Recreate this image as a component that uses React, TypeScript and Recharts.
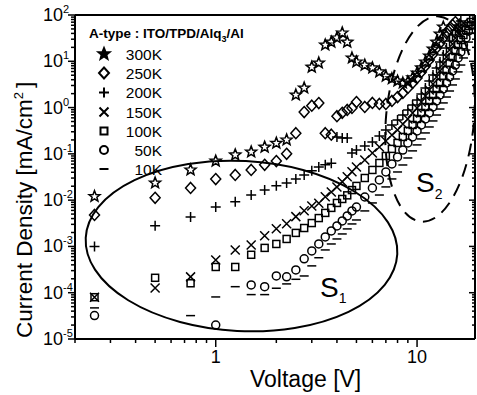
import React from 'react';
import { ScatterChart, Scatter, XAxis, YAxis } from 'recharts';

// voltage steps of the J-V sweep (0.25 V up to 4.75 V, then 0.5 V)
const voltage = [
  0.25, 0.5, 0.75, 1, 1.25, 1.5, 1.75, 2, 2.25, 2.5, 2.75, 3, 3.25, 3.5, 3.75, 4, 4.25, 4.5, 4.75,
  5, 5.5, 6, 6.5, 7, 7.5, 8, 8.5, 9, 9.5, 10, 10.5, 11, 11.5, 12, 12.5, 13, 13.5, 14, 14.5, 15,
  15.5, 16, 16.5, 17, 17.5, 18, 18.5, 19,
];

// current density [mA/cm2] per temperature, null = no point
const j300K = [
  0.012, 0.0235, 0.045, 0.07, 0.095, 0.11, 0.14, 0.17, 0.2, 1.87, 2.65, 7.5, 9.2, 22.5, 26, 32, 41, 26, 11.8,
  9.7, 8.3, 7.2, 5.9, 4.8, 4.2, 3.75, 3.4, 3.6, 4.4, 5.6, 7.2, 9.7, 13, 18.4, 26, 38.8, 55,
  null, null, null, null, null, null, null, null, null, null, null,
];
const j250K = [
  0.0048, 0.0112, 0.0184, 0.0285, 0.035, 0.045, 0.058, 0.07, 0.1, 0.28, 0.8, 1.1, 1.25, 0.28, 0.26, 0.65, 0.77, 0.89, 0.98,
  1.32, 1.03, 1.26, 1.2, 1.2, 1.39, 1.69, 2.07, 2.65, 3.4, 4.36, 5.9, 7.9, 10.7, 14.4, 19.4, 24.8, 31.9, 40.8, 49.9, 61, 70.6,
  null, null, null, null, null, null, null,
];
const j200K = [
  0.001, 0.0028, 0.0043, 0.0071, 0.0092, 0.0129, 0.0166, 0.0204, 0.0235, 0.0288, 0.035, 0.043, 0.052, 0.058, 0.063, 0.23, 0.22, 0.22, 0.105,
  0.121, 0.148, 0.181, 0.244, 0.328, 0.421, 0.54, 0.69, 0.89, 1.14, 1.46, 1.97, 2.65, 3.76, 5.06, 7.2, 9.7, 13.7, 19.4, 27.4, 37, 47, 61, 74,
  null, null, null, null, null,
];
const j150K = [
  8e-5, 1.26e-4, 2.2e-4, 5.1e-4, 8.4e-4, 0.00107, 0.0017, 0.0024, 0.0031, 0.0044, 0.0059, 0.0075, 0.0086, 0.0118, 0.015, 0.0193, 0.025, 0.032, 0.041,
  0.052, 0.074, 0.104, 0.141, 0.19, 0.256, 0.328, 0.443, 0.568, 0.764, 0.98, 1.32, 1.78, 2.4, 3.24, 4.58, 6.2, 8.7, 12.4, 17.5, 23.7, 31.9, 40.8, 52, 67,
  null, null, null, null,
];
const j100K = [
  8e-5, 2.1e-4, 1.6e-4, 3.6e-4, 3.6e-4, 6.6e-4, 9.3e-4, 0.00113, 0.00145, 0.00196, 0.0025, 0.0032, 0.0041, 0.0053, 0.0068, 0.0087, 0.0106, 0.0127, 0.0165,
  0.0203, 0.0301, 0.0449, 0.0636, 0.09, 0.128, 0.172, 0.232, 0.313, 0.421, 0.568, 0.764, 1.03, 1.39, 1.87, 2.52, 3.4, 4.82, 6.5, 9.2, 12.4, 16.7, 22.5, 28.8, 37, 47, 57.8, 70.6, 82,
];
const j50K = [
  3.2e-5, null, null, 2.0e-5, null, 1.47e-4, 1.35e-4, 2.3e-4, 2.2e-4, 3.1e-4, 5.4e-4, 8.0e-4, 0.00113, 0.0016, 0.00216, 0.00277, 0.00356, 0.00456, 0.00585,
  0.0071, 0.0117, 0.0183, 0.0273, 0.0406, 0.0605, 0.0857, 0.121, 0.172, 0.232, 0.313, 0.421, 0.568, 0.764, 1.03, 1.39, 1.87, 2.52, 3.4, 4.58, 6.2, 8.3, 11.8, 15.9, 22.5, 31.9, 45, 61,
  null,
];
const j10K = [
  4.7e-5, null, 3.2e-5, 8.1e-5, 1.35e-4, 9.1e-5, 9.1e-5, 1.25e-4, 1.55e-4, 1.95e-4, 2.3e-4, 3.8e-4, 5.7e-4, 8.4e-4, 0.00113, 0.00145, 0.00186, 0.00239, 0.00306,
  0.00373, 0.00585, 0.0087, 0.0129, 0.0193, 0.0287, 0.0406, 0.0575, 0.0815, 0.116, 0.156, 0.21, 0.283, 0.381, 0.514, 0.69, 0.93, 1.26, 1.69, 2.28, 3.08, 4.15, 5.9, 8.3, 11.8, 17.5, 26, 40.8, 64,
];

const xTicks = [0.2, 0.3, 0.4, 0.5, 0.6, 0.7, 0.8, 0.9, 1, 2, 3, 4, 5, 6, 7, 8, 9, 10];
const decades = [1e-5, 1e-4, 1e-3, 1e-2, 1e-1, 1, 10, 100];
const minorSteps = [2, 3, 4, 5, 6, 7, 8, 9];
const yTicks = decades.flatMap((d) => (d === 100 ? [d] : [d, ...minorSteps.map((m) => m * d)]));

type Kind = 'star' | 'diamond' | 'plus' | 'cross' | 'square' | 'circle' | 'dash';

const series: { name: string; values: (number | null)[]; kind: Kind }[] = [
  { name: '300K', values: j300K, kind: 'star' },
  { name: '250K', values: j250K, kind: 'diamond' },
  { name: '200K', values: j200K, kind: 'plus' },
  { name: '150K', values: j150K, kind: 'cross' },
  { name: '100K', values: j100K, kind: 'square' },
  { name: '50K', values: j50K, kind: 'circle' },
  { name: '10K', values: j10K, kind: 'dash' },
];

const FONT = '"Liberation Sans", Arial, Helvetica, sans-serif';

const toPoints = (values: (number | null)[]) =>
  voltage.map((v, i) => ({ v, j: values[i] })).filter((p) => p.j != null);

const isDecade = (v: number) => Math.abs(Math.log10(v) - Math.round(Math.log10(v))) < 1e-6;

const starPoints = (cx: number, cy: number, R: number, r: number) =>
  Array.from({ length: 10 }, (_, k) => {
    const a = -Math.PI / 2 + (k * Math.PI) / 5;
    const rad = k % 2 ? r : R;
    return `${cx + rad * Math.cos(a)},${cy + rad * Math.sin(a)}`;
  }).join(' ');

function Marker({ kind, cx, cy, sw = 1.5, filled = false }: { kind: Kind; cx: number; cy: number; sw?: number; filled?: boolean }) {
  const s = { stroke: '#000', strokeWidth: sw, fill: filled ? '#000' : 'none' };
  switch (kind) {
    case 'star':
      return <polygon points={starPoints(cx, cy, 5.8, 2.5)} {...s} />;
    case 'diamond':
      return <polygon points={`${cx},${cy - 5.5} ${cx + 5},${cy} ${cx},${cy + 5.5} ${cx - 5},${cy}`} {...s} />;
    case 'plus':
      return <path d={`M${cx - 5},${cy}H${cx + 5}M${cx},${cy - 5}V${cy + 5}`} {...s} />;
    case 'cross':
      return <path d={`M${cx - 4.5},${cy - 4.5}L${cx + 4.5},${cy + 4.5}M${cx - 4.5},${cy + 4.5}L${cx + 4.5},${cy - 4.5}`} {...s} />;
    case 'square':
      return <rect x={cx - 3.5} y={cy - 3.5} width={7} height={7} {...s} />;
    case 'circle':
      return <circle cx={cx} cy={cy} r={4} {...s} />;
    default:
      return <path d={`M${cx - 4.5},${cy}H${cx + 4.5}`} {...s} />;
  }
}

const BottomTick = ({ x, y, payload }: any) => {
  const v = payload.value;
  const major = isDecade(v);
  return (
    <g>
      <line x1={x} x2={x} y1={y} y2={y + (major ? 8 : 4)} stroke="#000" strokeWidth={1.5} />
      {major && (
        <text x={x} y={y + 24} textAnchor="middle" fontSize={18} fontFamily={FONT} fill="#000">
          {v}
        </text>
      )}
    </g>
  );
};

const TopTick = ({ x, y, payload }: any) => {
  const major = isDecade(payload.value);
  return <line x1={x} x2={x} y1={y} y2={y + (major ? 6 : 3)} stroke="#000" strokeWidth={1.5} />;
};

const LeftTick = ({ x, y, payload }: any) => {
  const v = payload.value;
  const major = isDecade(v);
  const e = Math.round(Math.log10(v));
  return (
    <g>
      <line x1={x - (major ? 7 : 4)} x2={x} y1={y} y2={y} stroke="#000" strokeWidth={1.5} />
      {major && (
        <text x={x - 32} y={y + 6} fontSize={18} fontFamily={FONT} fill="#000">
          10
          <tspan dy={-8} fontSize={11}>
            {e}
          </tspan>
        </text>
      )}
    </g>
  );
};

const RightTick = ({ x, y, payload }: any) => {
  const major = isDecade(payload.value);
  return <line x1={x - (major ? 6 : 3)} x2={x} y1={y} y2={y} stroke="#000" strokeWidth={1.5} />;
};

const axisLine = { stroke: '#000', strokeWidth: 2 };
const legendRows = [54, 73, 92.5, 112, 131, 150, 169];

export default function App() {
  return (
    <div style={{ position: 'absolute', left: 0, top: 0, width: 477, height: 395, background: '#fff' }}>
      <ScatterChart width={477} height={395} margin={{ top: 14, right: 1, bottom: 16, left: 15 }}>
        <XAxis
          dataKey="v"
          type="number"
          scale="log"
          domain={[0.2, 19.4]}
          allowDataOverflow
          ticks={xTicks}
          interval={0}
          height={40}
          tickSize={0}
          tickMargin={0}
          tick={<BottomTick />}
          axisLine={axisLine}
        />
        <XAxis
          xAxisId="top"
          orientation="top"
          type="number"
          scale="log"
          domain={[0.2, 19.4]}
          allowDataOverflow
          ticks={xTicks}
          interval={0}
          height={1}
          tickSize={0}
          tickMargin={0}
          tick={<TopTick />}
          axisLine={axisLine}
        />
        <YAxis
          dataKey="j"
          type="number"
          scale="log"
          domain={[1e-5, 100]}
          allowDataOverflow
          ticks={yTicks}
          interval={0}
          width={60}
          tickSize={0}
          tickMargin={0}
          tick={<LeftTick />}
          axisLine={axisLine}
        />
        <YAxis
          yAxisId="right"
          orientation="right"
          type="number"
          scale="log"
          domain={[1e-5, 100]}
          allowDataOverflow
          ticks={yTicks}
          interval={0}
          width={1}
          tickSize={0}
          tickMargin={0}
          tick={<RightTick />}
          axisLine={axisLine}
        />
        {series.map((s) => (
          <Scatter
            key={s.name}
            name={s.name}
            data={toPoints(s.values)}
            isAnimationActive={false}
            shape={(p: any) => <Marker kind={s.kind} cx={p.cx} cy={p.cy} />}
          />
        ))}
      </ScatterChart>

      {/* annotations, legend and axis titles */}
      <svg width={477} height={395} style={{ position: 'absolute', left: 0, top: 0, pointerEvents: 'none' }} fontFamily={FONT}>
        <ellipse cx={241.5} cy={246} rx={156} ry={85} transform="rotate(3 241.5 246)" fill="none" stroke="#000" strokeWidth={2} />
        <ellipse cx={430} cy={119} rx={44} ry={103} transform="rotate(5 430 119)" fill="none" stroke="#000" strokeWidth={2} strokeDasharray="13 8" />
        <text x={320} y={297} fontSize={28}>
          S<tspan dy={6} fontSize={14}>1</tspan>
        </text>
        <text x={416} y={192} fontSize={28}>
          S<tspan dy={7} fontSize={14}>2</tspan>
        </text>

        <text x={89} y={38} fontSize={13.5} fontWeight="bold">
          A-type : ITO/TPD/Alq<tspan dy={4} fontSize={9}>3</tspan>
          <tspan dy={-4}>/Al</tspan>
        </text>
        {series.map((s, i) => (
          <g key={s.name}>
            <Marker kind={s.kind} cx={104} cy={legendRows[i]} sw={2} filled={s.kind === 'star'} />
            <text x={162} y={legendRows[i] + 5.5} fontSize={15.5} textAnchor="end">
              {s.name}
            </text>
          </g>
        ))}

        <text x={250} y={387} fontSize={23}>
          Voltage [V]
        </text>
        <text transform="translate(32 338) rotate(-90)" fontSize={22.5}>
          Current Density [mA/cm
          <tspan dy={-9} fontSize={13}>2</tspan>
          <tspan dy={9} dx={4}>]</tspan>
        </text>
      </svg>
    </div>
  );
}
